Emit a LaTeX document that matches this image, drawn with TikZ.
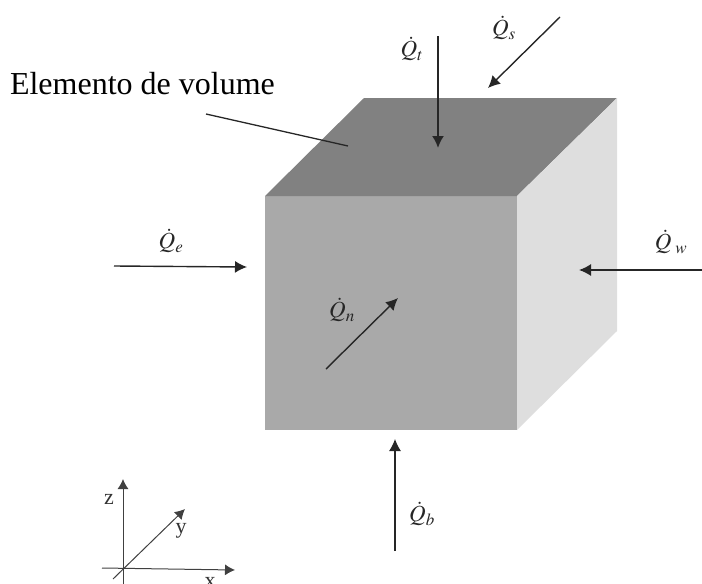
\documentclass[tikz,border=0pt]{standalone}
\usepackage{mathptmx}
\usepackage{fontspec}
\setmainfont{Liberation Serif}
\usetikzlibrary{arrows.meta}

\definecolor{topgray}{HTML}{818181}
\definecolor{frontgray}{HTML}{A9A9A9}
\definecolor{sidegray}{HTML}{DEDEDE}

\begin{document}
\begin{tikzpicture}[x=1pt, y=-1pt,
    every node/.style={inner sep=0pt, outer sep=0pt},
    flux/.style={-{Latex[length=12pt, width=12pt]}, line width=1.4pt, black!85},
    axis/.style={-{Latex[length=10pt, width=11pt]}, line width=1pt, black!75},
    qlabel/.style={font=\fontsize{23}{25}\selectfont, black!85},
    axlabel/.style={font=\fontsize{22}{24}\selectfont, black!80}]

  \useasboundingbox (0,0) rectangle (702,584);

  % cube
  \coordinate (ftl) at (265,196);
  \coordinate (ftr) at (517,196);
  \coordinate (fbr) at (517,430);
  \coordinate (fbl) at (265,430);
  \coordinate (btl) at (364,98);
  \coordinate (btr) at (617,98);
  \coordinate (bbr) at (617,331);
  \fill[frontgray] (ftl) -- (ftr) -- (fbr) -- (fbl) -- cycle;
  \fill[topgray] (ftl) -- (btl) -- (btr) -- (ftr) -- cycle;
  \fill[sidegray] (ftr) -- (btr) -- (bbr) -- (fbr) -- cycle;

  % leader
  \node[anchor=base west, font=\fontsize{32}{36}\selectfont] (title) at (10,94) {Elemento de volume};
  \coordinate (leadA) at (206,114);
  \coordinate (leadB) at (348,146);
  \draw[line width=1.3pt, black!85] (leadA) -- (leadB);

  % heat flows
  \coordinate (qtA) at (438,36);   \coordinate (qtB) at (438,148);
  \coordinate (qsA) at (560,17);   \coordinate (qsB) at (488,88);
  \coordinate (qeA) at (114,266);  \coordinate (qeB) at (247,267);
  \coordinate (qwA) at (702,270);  \coordinate (qwB) at (579,270);
  \coordinate (qnA) at (326,369);  \coordinate (qnB) at (398,298);
  \coordinate (qbA) at (395,551);  \coordinate (qbB) at (395,439);
  \draw[flux, line width=2pt] (qtA) -- (qtB);
  \draw[flux] (qsA) -- (qsB);
  \draw[flux] (qeA) -- (qeB);
  \draw[flux] (qwA) -- (qwB);
  \draw[flux] (qnA) -- (qnB);
  \draw[flux, line width=1.1pt] (qbA) -- (qbB);

  \node[qlabel] (lt) at (412,49) {$\dot{Q}_t$};
  \node[qlabel] (ls) at (504,28) {$\dot{Q}_s$};
  \node[qlabel] (le) at (171,241) {$\dot{Q}_e$};
  \node[qlabel] (lw) at (671,242) {$\dot{Q}_{\;w}$};
  \node[qlabel] (ln) at (342,310) {$\dot{Q}_n$};
  \node[qlabel] (lb) at (422,514) {$\dot{Q}_b$};

  % axes
  \coordinate (org) at (123,568);
  \coordinate (xS) at (102,568);  \coordinate (xE) at (235,570);
  \coordinate (zS) at (123,590);  \coordinate (zE) at (123,479);
  \coordinate (yS) at (113,579);  \coordinate (yE) at (185,509);
  \draw[axis] (xS) -- (xE);
  \draw[axis] (zS) -- (zE);
  \draw[axis] (yS) -- (yE);
  \node[axlabel] (lz) at (109,499) {z};
  \node[axlabel] (ly) at (181,531) {y};
  \node[axlabel] (lx) at (210,582) {x};
\end{tikzpicture}
\end{document}
